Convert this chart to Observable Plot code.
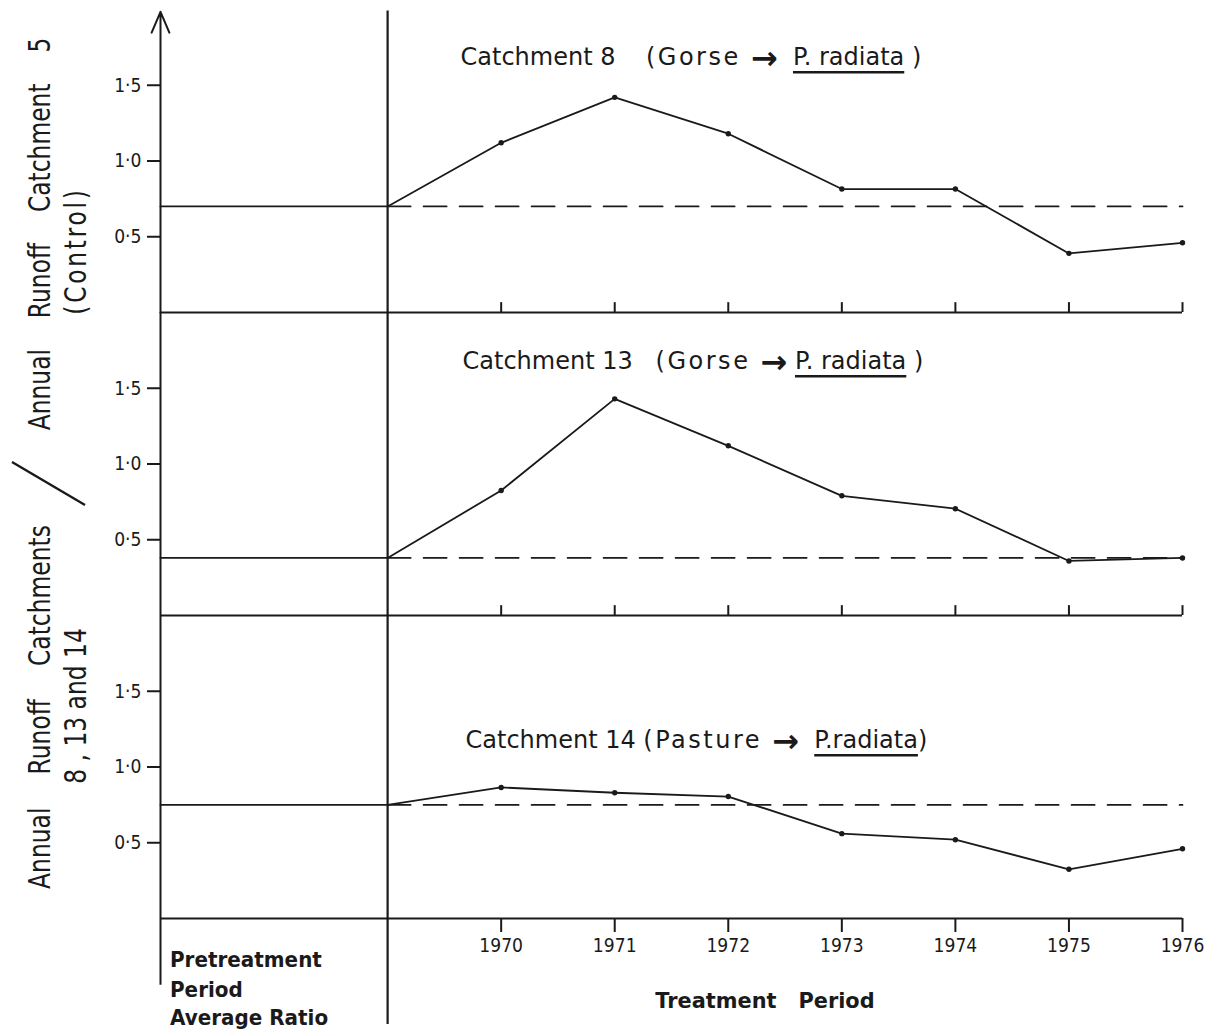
<!DOCTYPE html>
<html><head><meta charset="utf-8">
<script src="https://cdn.jsdelivr.net/npm/d3@7"></script>
<script src="https://cdn.jsdelivr.net/npm/@observablehq/plot@0.6"></script>
<style>
body{margin:0;background:#fff;}
svg text{white-space:pre;}
</style></head><body>
<div id="chart"></div>
<script>
// ---- data ----
const catchments = [8, 13, 14];
const titles = [
  "Catchment 8    (Gorse →  P. radiata )",
  "Catchment 13   (Gorse → P. radiata )",
  "Catchment 14 (Pasture →  P.radiata)"
];
const years = [1970, 1971, 1972, 1973, 1974, 1975, 1976];
const pretreatmentStart = 1967;
const treatmentStart = 1969;
const pretreatmentAverage = [0.70, 0.38, 0.75];
const ratio8  = [1.12, 1.42, 1.18, 0.815, 0.815, 0.39, 0.46];
const ratio13 = [0.825, 1.43, 1.12, 0.79, 0.705, 0.36, 0.38];
const ratio14 = [0.865, 0.83, 0.805, 0.56, 0.52, 0.325, 0.46];
const yTicks = [0.5, 1.0, 1.5];

// ---- tables ----
const series = [ratio8, ratio13, ratio14];
const rows = [];
catchments.forEach((c, i) => {
  rows.push({c, year: pretreatmentStart, v: pretreatmentAverage[i], pt: false});
  rows.push({c, year: treatmentStart, v: pretreatmentAverage[i], pt: false});
  years.forEach((y, k) => rows.push({c, year: y, v: series[i][k], pt: true}));
});
const lastYear = years[years.length - 1];
const dashRows = catchments.flatMap((c, i) => [
  {c, year: treatmentStart, v: pretreatmentAverage[i]},
  {c, year: lastYear, v: pretreatmentAverage[i]}
]);
const panels = catchments.map((c, i) => ({c, title: titles[i]}));
const upTicks = catchments.slice(0, 2).flatMap(c => years.map(year => ({c, year})));

const ink = "#1a1a1a";
const fmt = d => d.toFixed(1).replace(".", "·");
const titleOpts = {fy: "c", text: "title", frameAnchor: "top-left", textAnchor: "start", lineAnchor: "middle", fontSize: 24, fill: ink};

const plot = Plot.plot({
  width: 1226, height: 1035,
  marginTop: 9, marginBottom: 117, marginLeft: 160, marginRight: 44,
  style: {fontFamily: "DejaVu Sans", fontSize: "20px", background: "#fff", color: ink},
  x: {domain: [pretreatmentStart, lastYear]},
  y: {domain: [0, 2]},
  fy: {domain: catchments, padding: 0, axis: null},
  marks: [
    Plot.axisY({ticks: yTicks, tickFormat: fmt, tickSize: 13, tickPadding: 6, fontSize: 20, label: null, strokeWidth: 2}),
    Plot.axisX({ticks: years, tickFormat: d => String(d), tickSize: 14, tickPadding: 5, fontSize: 20, label: null, strokeWidth: 2}),
    Plot.ruleY(panels, {fy: "c", y: 0, x1: pretreatmentStart, x2: lastYear, stroke: ink, strokeWidth: 2.2}),
    Plot.ruleX(upTicks, {fy: "c", x: "year", y1: 0, y2: 0.065, stroke: ink, strokeWidth: 2}),
    // left axis with arrow
    Plot.arrow(panels.slice(0, 1), {fy: "c", x1: pretreatmentStart, x2: pretreatmentStart, y1: 0, y2: 1.985, headAngle: 46, headLength: 17, stroke: ink, strokeWidth: 2}),
    Plot.ruleX(panels.slice(1, 2), {fy: "c", x: pretreatmentStart, y1: 0, y2: 2, stroke: ink, strokeWidth: 2}),
    Plot.ruleX(panels.slice(2), {fy: "c", x: pretreatmentStart, y1: -0.44, y2: 2, stroke: ink, strokeWidth: 2}),
    // treatment divider
    Plot.ruleX(panels.slice(0, 1), {fy: "c", x: treatmentStart, y1: 0, y2: 1.99, stroke: ink, strokeWidth: 2.2}),
    Plot.ruleX(panels.slice(1, 2), {fy: "c", x: treatmentStart, y1: 0, y2: 2, stroke: ink, strokeWidth: 2.2}),
    Plot.ruleX(panels.slice(2), {fy: "c", x: treatmentStart, y1: -0.7, y2: 2, stroke: ink, strokeWidth: 2.2}),
    // pretreatment average carried forward (dashed)
    Plot.line(dashRows, {fy: "c", x: "year", y: "v", z: "c", stroke: ink, strokeWidth: 1.8, strokeDasharray: "23,13"}),
    // observed ratio
    Plot.line(rows, {fy: "c", x: "year", y: "v", z: "c", stroke: ink, strokeWidth: 1.8}),
    Plot.dot(rows.filter(d => d.pt), {fy: "c", x: "year", y: "v", r: 2.7, fill: ink, stroke: null}),
    // panel titles
    Plot.text(panels.slice(0, 1), {...titleOpts, dx: 300, dy: 48}),
    Plot.text(panels.slice(1, 2), {...titleOpts, dx: 302, dy: 49}),
    Plot.text(panels.slice(2), {...titleOpts, dx: 305, dy: 125})
  ]
});
document.getElementById("chart").appendChild(plot);

// ---- narrow (hand-lettered look) tick labels ----
d3.select(plot).selectAll('g[aria-label$="tick label"] text').each(function () {
  let pre = "";
  const x = this.getAttribute("x"), y = this.getAttribute("y");
  const nx = x !== null && x !== "" && !isNaN(+x) ? +x : 0;
  const ny = y !== null && y !== "" && !isNaN(+y) ? +y : 0;
  if (nx || ny) {
    pre = ` translate(${nx},${ny})`;
    if (nx) this.removeAttribute("x");
    if (ny) this.removeAttribute("y");
  }
  const tr = this.getAttribute("transform") || "";
  this.setAttribute("transform", `${tr}${pre} scale(0.86,1)`);
});

// ---- post-processing: spaced treatment word, bold arrow, underlined species ----
d3.select(plot).selectAll("text").each(function () {
  const full = this.textContent;
  if (!full.includes("→")) return;
  const p = full.indexOf("("), a = full.indexOf("→"), j = full.indexOf("P."), k = full.lastIndexOf(")");
  const t = d3.select(this);
  t.text(null);
  t.append("tspan").text(full.slice(0, p));
  t.append("tspan").attr("letter-spacing", 2.5).text(full.slice(p, a));
  t.append("tspan").attr("font-weight", "bold").attr("font-size", 32).attr("dy", 4).text("→");
  t.append("tspan").attr("dy", -4).text(full.slice(a + 1, j));
  t.append("tspan").text(full.slice(j, k));
  t.append("tspan").text(full.slice(k));
  const end = full.slice(0, k).trimEnd().length - 1;
  const s = this.getStartPositionOfChar(j), e = this.getEndPositionOfChar(end);
  d3.select(this.parentNode).append("line")
    .attr("transform", this.getAttribute("transform"))
    .attr("x1", s.x).attr("x2", e.x).attr("y1", s.y + 7).attr("y2", s.y + 7)
    .attr("stroke", ink).attr("stroke-width", 2.6);
});

// ---- free labels ----
const g = d3.select(plot).append("g").attr("font-family", "DejaVu Sans").attr("fill", ink);
function label(x, y, str, {size = 24, weight = "normal", rotate = 0, sx = 1, anchor = "middle", ls = 0, ws = 0} = {}) {
  g.append("text")
    .attr("transform", `translate(${x},${y}) rotate(${rotate}) scale(${sx},1)`)
    .attr("text-anchor", anchor).attr("dy", "0.35em")
    .attr("font-size", size).attr("font-weight", weight)
    .attr("letter-spacing", ls).attr("word-spacing", ws)
    .text(str);
}
label(39, 234, "Annual Runoff Catchment 5", {rotate: -90, size: 30, sx: 0.78, ws: 30});
label(75, 251, "(Control)", {rotate: -90, size: 30, sx: 0.78, ls: 3.5});
label(39, 707, "Annual Runoff Catchments", {rotate: -90, size: 30, sx: 0.78, ws: 33});
label(75, 706, "8 , 13 and 14", {rotate: -90, size: 30, sx: 0.78});
g.append("line").attr("x1", 12).attr("y1", 462).attr("x2", 85).attr("y2", 505)
  .attr("stroke", ink).attr("stroke-width", 2.4);
label(170, 960, "Pretreatment", {size: 21, weight: "bold", anchor: "start", sx: 0.95});
label(170, 990, "Period", {size: 21, weight: "bold", anchor: "start", sx: 0.95});
label(170, 1018, "Average Ratio", {size: 21, weight: "bold", anchor: "start", sx: 0.95});
label(765, 1000, "Treatment   Period", {size: 22, weight: "bold", sx: 0.95});
</script>
</body></html>
